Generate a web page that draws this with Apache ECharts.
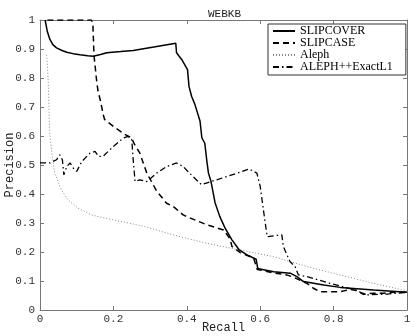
<!DOCTYPE html>
<html>
<head>
<meta charset="utf-8">
<script src="https://cdn.jsdelivr.net/npm/echarts@6/dist/echarts.min.js"></script>
<style>html,body{margin:0;padding:0;background:#fff}#c{width:414px;height:336px}</style>
</head>
<body>
<div id="c"></div>
<script>
var seriesNames = ['SLIPCOVER', 'SLIPCASE', 'Aleph', 'ALEPH++ExactL1'];

var slipcover = [[0.014,1.0],[0.02,0.96],[0.027,0.933],[0.035,0.915],[0.045,0.904],[0.06,0.895],[0.073,0.889],[0.09,0.884],[0.109,0.880],[0.13,0.877],[0.145,0.875],[0.165,0.881],[0.182,0.887],[0.22,0.891],[0.254,0.895],[0.31,0.907],[0.37,0.920],[0.372,0.887],[0.386,0.864],[0.402,0.829],[0.406,0.771],[0.413,0.737],[0.422,0.709],[0.436,0.652],[0.441,0.594],[0.449,0.575],[0.455,0.51],[0.459,0.472],[0.466,0.443],[0.477,0.370],[0.490,0.322],[0.504,0.283],[0.523,0.242],[0.543,0.207],[0.564,0.19],[0.589,0.175],[0.593,0.145],[0.599,0.141],[0.637,0.132],[0.682,0.127],[0.70,0.115],[0.718,0.098],[0.773,0.086],[0.818,0.078],[0.909,0.069],[1.0,0.061]];

var slipcase = [[0.02,1.0],[0.14,1.0],[0.144,0.99],[0.147,0.88],[0.154,0.794],[0.158,0.755],[0.165,0.72],[0.172,0.675],[0.176,0.657],[0.204,0.629],[0.231,0.606],[0.249,0.594],[0.258,0.57],[0.272,0.541],[0.291,0.472],[0.318,0.41],[0.345,0.368],[0.363,0.357],[0.39,0.328],[0.40,0.322],[0.454,0.294],[0.50,0.276],[0.518,0.245],[0.523,0.219],[0.546,0.198],[0.582,0.179],[0.592,0.14],[0.637,0.128],[0.672,0.121],[0.691,0.113],[0.727,0.092],[0.745,0.075],[0.763,0.063],[0.817,0.063],[0.845,0.071],[0.864,0.067],[0.881,0.054],[0.909,0.058],[0.935,0.058],[0.964,0.061],[1.0,0.062]];

var aleph = [[0.018,0.88],[0.02,0.85],[0.022,0.80],[0.024,0.72],[0.026,0.62],[0.031,0.553],[0.04,0.472],[0.058,0.415],[0.076,0.38],[0.104,0.351],[0.14,0.328],[0.176,0.317],[0.222,0.305],[0.285,0.288],[0.363,0.259],[0.454,0.23],[0.545,0.207],[0.636,0.184],[0.727,0.15],[0.817,0.121],[0.908,0.092],[1.0,0.066]];

var alephPP = [[0,0.507],[0.027,0.507],[0.045,0.518],[0.054,0.535],[0.061,0.518],[0.065,0.466],[0.073,0.495],[0.082,0.507],[0.091,0.489],[0.1,0.478],[0.114,0.512],[0.136,0.541],[0.15,0.547],[0.159,0.53],[0.172,0.53],[0.2,0.564],[0.227,0.593],[0.24,0.599],[0.25,0.587],[0.254,0.518],[0.259,0.443],[0.272,0.449],[0.291,0.443],[0.318,0.472],[0.345,0.495],[0.372,0.507],[0.39,0.495],[0.409,0.47],[0.44,0.432],[0.466,0.443],[0.509,0.46],[0.57,0.486],[0.591,0.472],[0.6,0.426],[0.61,0.334],[0.619,0.253],[0.637,0.256],[0.659,0.259],[0.663,0.219],[0.681,0.167],[0.695,0.15],[0.704,0.121],[0.727,0.115],[0.79,0.092],[0.855,0.07],[0.891,0.052],[0.946,0.055],[1.0,0.061]];

var mono = 'Liberation Mono';
var axisGray = '#777';

var chart = echarts.init(document.getElementById('c'), null, {renderer: 'canvas'});
function boxAxis(pos, interval) {
  return {
    type: 'value', position: pos, min: 0, max: 1, interval: interval,
    axisLine: {show: true, onZero: false, lineStyle: {color: axisGray, width: 1}},
    axisTick: {show: true, inside: true, length: 4, lineStyle: {color: axisGray}},
    axisLabel: {show: false},
    splitLine: {show: false}
  };
}
chart.setOption({
  animation: false,
  backgroundColor: '#fff',
  title: {
    text: 'WEBKB', left: 203, top: 4,
    textStyle: {fontFamily: mono, fontSize: 11, fontWeight: 'normal', color: '#222'}
  },
  grid: {left: 40, right: 7, top: 20, bottom: 26, containLabel: false, outerBoundsMode: 'none'},
  legend: {
    orient: 'vertical', left: 268, top: 24,
    padding: [1, 13, 2, 4],
    borderColor: '#333', borderWidth: 1, backgroundColor: '#fff',
    itemWidth: 22, itemHeight: 10, itemGap: 0,
    itemStyle: {opacity: 0, borderWidth: 0},
    data: seriesNames,
    textStyle: {fontFamily: 'Liberation Serif', fontSize: 12, color: '#000', lineHeight: 10}
  },
  xAxis: [{
    type: 'value', min: 0, max: 1, interval: 0.2, position: 'bottom',
    name: 'Recall', nameLocation: 'middle', nameGap: 12, nameMoveOverlap: false,
    nameTextStyle: {fontFamily: mono, fontSize: 12, color: '#222'},
    axisLine: {show: true, onZero: false, lineStyle: {color: axisGray, width: 1}},
    axisTick: {show: true, inside: true, length: 4, lineStyle: {color: axisGray}},
    axisLabel: {fontFamily: mono, fontSize: 11, color: '#333', margin: 4},
    splitLine: {show: false}
  }, boxAxis('top', 0.2)],
  yAxis: [{
    type: 'value', min: 0, max: 1, interval: 0.1, position: 'left',
    name: 'Precision', nameLocation: 'middle', nameGap: 24, nameMoveOverlap: false,
    nameTextStyle: {fontFamily: mono, fontSize: 12, color: '#222'},
    axisLine: {show: true, onZero: false, lineStyle: {color: axisGray, width: 1}},
    axisTick: {show: true, inside: true, length: 4, lineStyle: {color: axisGray}},
    axisLabel: {fontFamily: mono, fontSize: 11, color: '#333', margin: 5},
    splitLine: {show: false}
  }, boxAxis('right', 0.1)],
  series: [
    {name: seriesNames[2], type: 'line', data: aleph, symbol: 'none', z: 1,
     lineStyle: {color: '#888', width: 1, type: [1, 2]}, itemStyle: {color: '#888'}},
    {name: seriesNames[0], type: 'line', data: slipcover, symbol: 'none', z: 3,
     lineStyle: {color: '#000', width: 1.5, type: 'solid'}, itemStyle: {color: '#000'}},
    {name: seriesNames[1], type: 'line', data: slipcase, symbol: 'none', z: 3,
     lineStyle: {color: '#000', width: 1.5, type: [6, 4]}, itemStyle: {color: '#000'}},
    {name: seriesNames[3], type: 'line', data: alephPP, symbol: 'none', z: 2,
     lineStyle: {color: '#000', width: 1.3, type: [6, 3, 1.5, 3]}, itemStyle: {color: '#000'}}
  ]
});
</script>
</body>
</html>
